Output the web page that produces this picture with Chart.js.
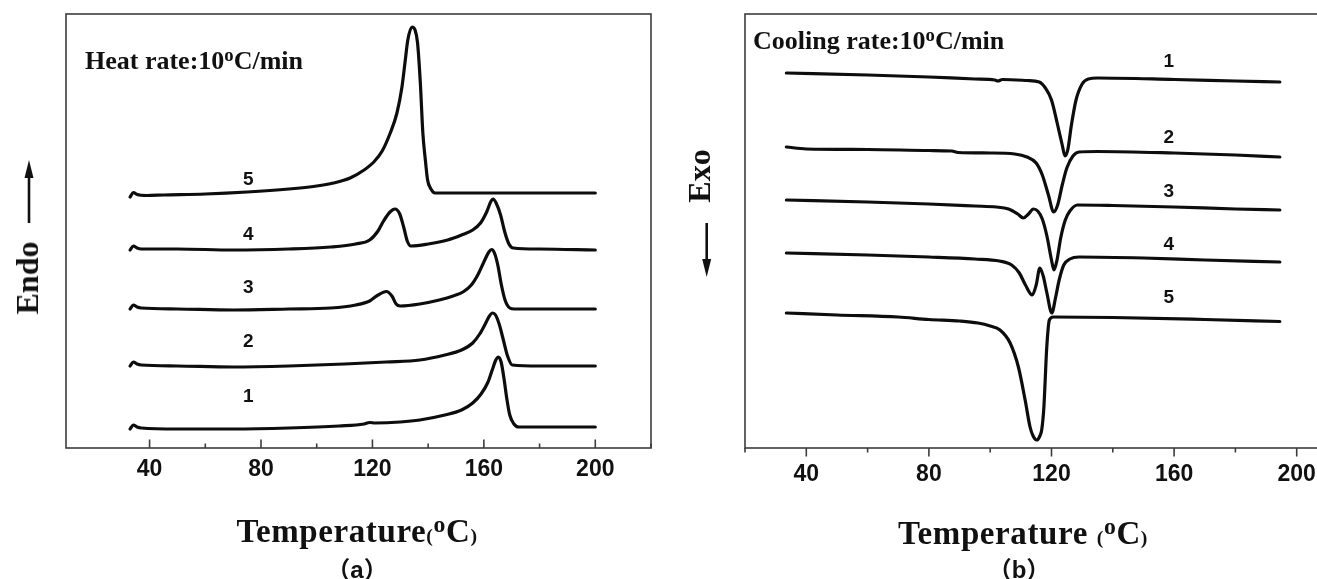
<!DOCTYPE html>
<html>
<head>
<meta charset="utf-8">
<script src="https://cdn.jsdelivr.net/npm/chart.js@4.4.1/dist/chart.umd.min.js"></script>
<style>
  html, body { margin: 0; padding: 0; background: #fff; }
  body { position: relative; width: 1317px; height: 579px; overflow: hidden;
         font-family: "Liberation Serif", "Times New Roman", serif; color: #111; }
  canvas { position: absolute; top: 0; }
  #heatChart { left: 0; }
  #coolChart { left: 660px; }
  .txt { position: absolute; white-space: nowrap; line-height: 1; font-weight: bold; }
  .rate { font-size: 26px; }
  .rate sup, .xtitle sup { font-size: 0.72em; position: relative; top: -0.42em;
                           vertical-align: baseline; line-height: 0; }
  .xtitle { font-size: 33px; letter-spacing: 0.6px; text-align: center; width: 400px; }
  .xtitle .p { font-size: 0.6em; }
  .ytitle { font-size: 32px; transform: translate(-50%, -50%) rotate(-90deg); }
  .panel { font-family: "Liberation Sans", Arial, "Noto Sans CJK SC", sans-serif;
           font-size: 24px; text-align: center; width: 100px; line-height: 24px; }
</style>
</head>
<body>
<canvas id="heatChart" width="660" height="579"></canvas>
<canvas id="coolChart" width="720" height="579"></canvas>

<div class="txt rate" style="left:85px; top:48px;">Heat rate:10<sup>o</sup>C/min</div>
<div class="txt rate" style="left:753px; top:28px;">Cooling rate:10<sup>o</sup>C/min</div>

<div class="txt xtitle" style="left:157px; top:515px;">Temperature<span class="p">(</span><sup>o</sup>C<span class="p">)</span></div>
<div class="txt xtitle" style="left:823px; top:517px;">Temperature <span class="p">(</span><sup>o</sup>C<span class="p">)</span></div>
<div class="txt panel" style="left:307px; top:558px;">（a）</div>
<div class="txt panel" style="left:969px; top:558px;">（b）</div>

<div class="txt ytitle" style="left:27px; top:278px;">Endo</div>
<div class="txt ytitle" style="left:699px; top:176px;">Exo</div>

<svg width="1317" height="579" style="position:absolute; left:0; top:0;">
  <line x1="29" y1="176" x2="29" y2="223" stroke="#111" stroke-width="2.6"/>
  <polygon points="29,160 24.5,178 33.5,178" fill="#111"/>
  <line x1="706.7" y1="223" x2="706.7" y2="262" stroke="#111" stroke-width="2.6"/>
  <polygon points="706.7,277 702.2,259 711.2,259" fill="#111"/>
</svg>

<script>
// temperature (°C) vs heat flow signal (a.u., curves stacked as in the figure)
const heating1 = [[33,19],[34.2,23],[35.5,21],[37,20],[50,19],[70,19],[90,20],[108,22],[117,24],[119,25.5],[121,25],[130,26],[137,28],[146,33],[152,38],[156,45],[159,54],[161.5,66],[163,78],[164.3,88],[165.2,91],[166.2,86],[167.2,70],[168.2,50],[169.3,33],[170.8,24],[172.5,21],[185,21],[200,21]];
const heating2 = [[33,82],[34.2,86],[35.5,84],[37,83],[50,82],[70,81],[90,82],[110,84],[125,86],[137,88],[146,93],[152,98],[156,105],[158.5,114],[160.5,124],[162,132],[163.1,135],[164.2,133],[165.6,123],[167,108],[168.5,92],[170.2,83],[180,82],[200,82]];
const heating3 = [[33,139],[34.2,143],[35.5,141],[37,140],[50,139],[70,138],[90,139],[105,140],[114,143],[119,147],[122,153],[125,156.5],[127,152],[128.5,144],[130,142],[137,144],[144,148],[149,152],[152.5,156],[155.5,163],[158,174],[160,186],[161.8,196],[162.8,198.5],[163.8,195],[165,183],[166.3,163],[167.6,148],[169.3,140],[171,139],[185,139],[200,139]];
const heating4 = [[33,198],[34.2,202],[35.5,200],[37,199],[50,199],[70,198],[90,199],[105,201],[114,204],[119,208],[122,217],[124,227],[126.3,236],[128.1,239],[129.8,234],[131.3,220],[132.5,207],[133.8,202],[140,204],[147,208],[152,213],[156,218],[158.8,225],[161,236],[162.6,247],[163.3,249],[164.4,245],[166,233],[167.5,216],[169,204],[170.6,200],[180,199],[200,198]];
const heating5 = [[33,251],[34.2,255.5],[35.5,253.5],[39,252.5],[45,253],[60,254],[75,256],[90,259],[100,262],[106,265],[112,270],[117,278],[120.5,286],[123.5,297],[126.4,315],[128.8,335],[130.6,361],[131.8,388],[132.7,408],[134.2,421],[135.3,418],[136.2,405],[137.2,365],[138.1,315],[139,288],[139.8,268],[140.8,260],[142.5,255],[160,255],[200,255]];

const cooling1 = [[33.5,375],[60,373],[80,371],[95,369],[101.5,368],[102.5,367],[104,368.5],[112,367.5],[116,366],[118,360],[120,348],[122,323],[123.5,303],[124.4,292],[125.3,298],[126.5,323],[128,348],[130,364],[132,369],[135,370],[160,368.5],[180,367],[194.5,366]];
const cooling2 = [[33.5,301],[40,299],[60,298.5],[80,297.5],[87.5,297],[89.5,295.5],[100,295],[108,294],[112,291],[115,285],[117,273],[119,253],[120.7,236],[122,243],[123.5,263],[125,280],[127,292],[129,296],[135,296.5],[160,295],[180,293],[194.5,291]];
const cooling3 = [[33.5,248],[60,246],[80,244],[95,242],[102,241],[106,239],[109,234],[110.8,230],[112.5,234],[114.1,239],[115.5,237],[117,229],[118.5,212],[120,188],[120.8,178],[121.8,188],[123,210],[124.5,228],[126,237],[128.5,243],[140,242.5],[160,241],[180,239],[194.5,238]];
const cooling4 = [[33.5,195],[60,193],[80,191],[95,189],[103,187],[107,183],[109.5,175],[111.5,163],[113.7,153],[115,163],[116.2,180],[117.3,172],[118.5,155],[120.1,135],[121.3,150],[122.5,168],[124,183],[126,189],[129,191],[150,190],[170,188],[194.5,186]];
const cooling5 = [[33.5,135],[50,133],[70,131],[80,128.5],[90,127],[96,125],[100,122],[103.2,118],[106.5,105],[109.2,81],[111.4,48],[113,21],[114,12],[115.2,8],[116.2,12],[116.8,18],[117.5,40],[117.9,65],[118.4,98],[119.3,128],[120.6,131],[140,130.5],[170,128.5],[194.5,126.5]];

const curveNames = ["1", "2", "3", "4", "5"];
const xTickLabels = [40, 80, 120, 160, 200];

// where the curve numbers sit (temperature, signal)
const heatLabelT = 75.4;
const heatLabelY = [51, 106, 160, 213, 268];
const coolLabelT = 158.3;
const coolLabelY = [386, 310, 256, 203, 150];

Chart.defaults.font.family = '"Liberation Sans", Arial, sans-serif';

// box frame, 20-degree tick marks and curve numbers
const framePlugin = {
  id: "frame",
  afterDraw(chart, args, opts) {
    const { ctx, chartArea: a, scales: { x, y } } = chart;
    ctx.save();
    ctx.strokeStyle = "#3c3c3c";
    ctx.lineWidth = 1.6;
    ctx.strokeRect(a.left, a.top, a.right - a.left, a.bottom - a.top);

    const dir = opts.inward ? -1 : 1;
    x.ticks.forEach(t => {
      if (t.value % 20 !== 0) return;
      const px = x.getPixelForValue(t.value);
      const len = t.value % 40 === 0 ? 8.5 : 4.5;
      ctx.beginPath();
      ctx.moveTo(px, a.bottom);
      ctx.lineTo(px, a.bottom + dir * len);
      ctx.stroke();
    });

    ctx.fillStyle = "#111";
    ctx.font = 'bold 19px "Liberation Sans", Arial, sans-serif';
    ctx.textAlign = "center";
    ctx.textBaseline = "middle";
    curveNames.forEach((name, i) => {
      ctx.fillText(name, x.getPixelForValue(opts.labelT), y.getPixelForValue(opts.labelY[i]));
    });
    ctx.restore();
  }
};

function makeChart(id, curves, cfg) {
  return new Chart(document.getElementById(id), {
    type: "scatter",
    data: {
      datasets: curves.map((pts, i) => ({
        label: curveNames[i],
        data: pts.map(([t, v]) => ({ x: t, y: v })),
        showLine: true,
        pointRadius: 0,
        borderColor: "#0d0d0d",
        borderWidth: 3.2,
        borderCapStyle: "round",
        borderJoinStyle: "round",
        cubicInterpolationMode: "monotone"
      }))
    },
    options: {
      responsive: false,
      animation: false,
      layout: { padding: { left: cfg.left, right: cfg.right, top: 14, bottom: 91 } },
      plugins: {
        legend: { display: false },
        tooltip: { enabled: false },
        frame: { inward: cfg.inward, labelT: cfg.labelT, labelY: cfg.labelY }
      },
      scales: {
        x: {
          type: "linear",
          min: cfg.min,
          max: 220,
          afterFit: s => { s.height = 40; },
          grid: { display: false, drawTicks: false },
          border: { display: false },
          ticks: {
            stepSize: 20,
            autoSkip: false,
            maxRotation: 0,
            padding: cfg.tickPad,
            color: "#111",
            font: { size: 23, weight: "bold" },
            callback: v => xTickLabels.includes(v) ? String(v) : ""
          }
        },
        y: { display: false, min: 0, max: 434 }
      }
    },
    plugins: [framePlugin]
  });
}

makeChart("heatChart", [heating1, heating2, heating3, heating4, heating5], {
  min: 10, left: 66, right: 9, tickPad: 8, inward: true,
  labelT: heatLabelT, labelY: heatLabelY
});

makeChart("coolChart", [cooling1, cooling2, cooling3, cooling4, cooling5], {
  min: 20, left: 85, right: 22, tickPad: 13, inward: false,
  labelT: coolLabelT, labelY: coolLabelY
});
</script>
</body>
</html>
